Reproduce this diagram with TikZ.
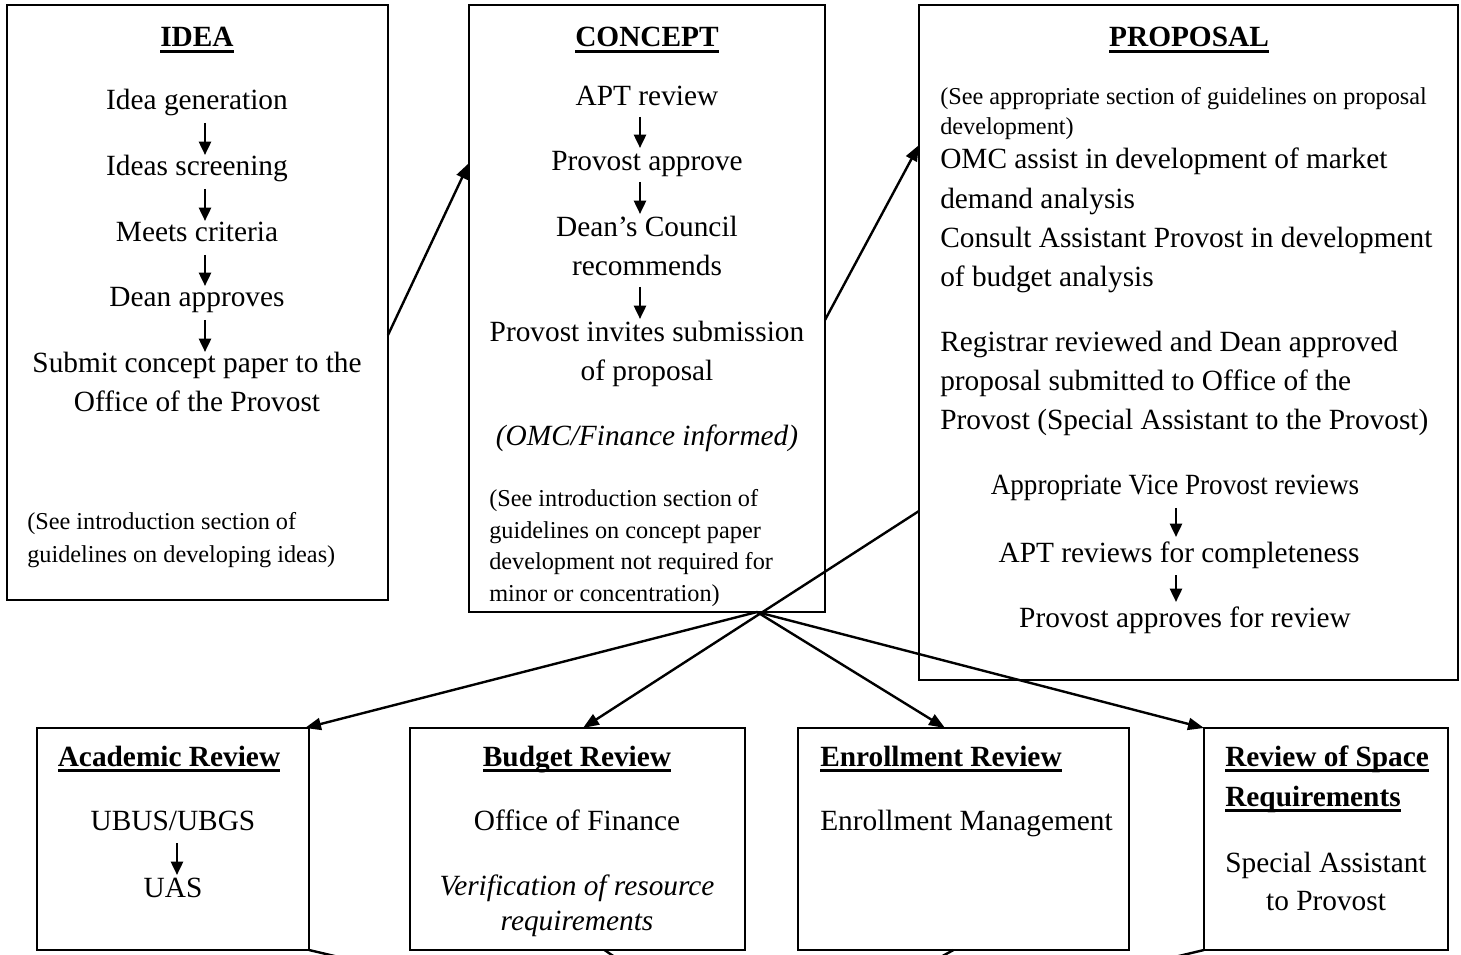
\documentclass[tikz,border=0pt]{standalone}
\usepackage{fontspec}
\usepackage{graphicx}
\setmainfont{Liberation Serif}
\usetikzlibrary{arrows.meta,calc,fit}
\newcommand\bodyfont{\fontsize{22}{30}\selectfont}
\newcommand\smallfont{\fontsize{18.2}{24}\selectfont}
\newcommand\ulbox[1]{\leavevmode\setbox0=\hbox{#1}\rlap{\rule[-4.2pt]{\wd0}{2pt}}\box0}
\begin{document}
\begin{tikzpicture}[x=0.75pt,y=-0.75pt,
  box/.style={draw, line width=1.1pt, inner sep=0pt, outer sep=0pt},
  body/.style={font=\bodyfont, inner sep=0pt, anchor=base},
  bodyl/.style={body, anchor=base west},
  small/.style={font=\smallfont, inner sep=0pt, anchor=base west},
  ttl/.style={font=\bodyfont\bfseries, inner sep=0pt, anchor=base},
  flow/.style={line width=1.8pt, -{Triangle[length=12pt,width=9pt]}},
  sarr/.style={line width=1.9pt, -{Triangle[length=10pt,width=9pt]}},
  stub/.style={line width=1.8pt}]
\useasboundingbox (0,0) rectangle (1461,955);
\clip (0,0) rectangle (1461,955);

% boxes
\node[box, fit={(7,5) (388,600)}] (idea) {};
\node[box, fit={(469,5) (825,612)}] (concept) {};
\node[box, fit={(919,5) (1458,680)}] (prop) {};
\node[box, fit={(37,728) (309,950)}] (acad) {};
\node[box, fit={(410,728) (745,950)}] (budget) {};
\node[box, fit={(798,728) (1129,950)}] (enroll) {};
\node[box, fit={(1204,728) (1448,950)}] (space) {};

% IDEA
\node[ttl] (ideaT) at (197,47) {\ulbox{IDEA}};
\node[body] (i1) at (197,110) {Idea generation};
\node[body] (i2) at (197,176) {Ideas screening};
\node[body] (i3) at (197,242) {Meets criteria};
\node[body] (i4) at (197,307) {Dean approves};
\node[body] (i5) at (197,373) {Submit concept paper to the};
\node[body] (i5b) at (197,412) {Office of the Provost};
\node[small] (in1) at (27,530) {(See introduction section of};
\node[small] (in2) at (27,562) {guidelines on developing ideas)};
\draw[sarr] ($(i1.base)+(8,13)$) -- ($(i2.base)+(8,-21)$);
\draw[sarr] ($(i2.base)+(8,13)$) -- ($(i3.base)+(8,-21)$);
\draw[sarr] ($(i3.base)+(8,13)$) -- ($(i4.base)+(8,-21)$);
\draw[sarr] ($(i4.base)+(8,13)$) -- ($(i5.base)+(8,-21)$);

% CONCEPT
\node[ttl] (conT) at (647,47) {\ulbox{CONCEPT}};
\node[body] (c1) at (647,106) {APT review};
\node[body] (c2) at (647,171) {Provost approve};
\node[body] (c3) at (647,237) {Dean’s Council};
\node[body] (c3b) at (647,276) {recommends};
\node[body] (c4) at (647,342) {Provost invites submission};
\node[body] (c4b) at (647,381) {of proposal};
\node[body, font=\bodyfont\itshape] (c5) at (647,446) {(OMC/Finance informed)};
\node[small] (cn1) at (489,507) {(See introduction section of};
\node[small] (cn2) at (489,538) {guidelines on concept paper};
\node[small] (cn3) at (489,570) {development not required for};
\node[small] (cn4) at (489,601) {minor or concentration)};
\draw[sarr] ($(c1.base)+(-7,11)$) -- ($(c2.base)+(-7,-23)$);
\draw[sarr] ($(c2.base)+(-7,11)$) -- ($(c3.base)+(-7,-23)$);
\draw[sarr] ($(c3b.base)+(-7,11)$) -- ($(c4.base)+(-7,-23)$);

% PROPOSAL
\node[ttl] (propT) at (1189,47) {\ulbox{PROPOSAL}};
\node[small] (pn1) at (940,105) {(See appropriate section of guidelines on proposal};
\node[small] (pn2) at (940,135) {development)};
\node[bodyl] (p1) at (940,169) {OMC assist in development of market};
\node[bodyl] (p1b) at (940,209) {demand analysis};
\node[bodyl] (p2) at (940,248) {Consult Assistant Provost in development};
\node[bodyl] (p2b) at (940,287) {of budget analysis};
\node[bodyl] (p3) at (940,352) {Registrar reviewed and Dean approved};
\node[bodyl] (p3b) at (940,391) {proposal submitted to Office of the};
\node[bodyl] (p3c) at (940,430) {Provost (Special Assistant to the Provost)};
\node[body] (p4) at (1175,495) {\scalebox{0.925}[1]{Appropriate Vice Provost reviews}};
\node[body] (p5) at (1179,562) {APT reviews for completeness};
\node[body] (p6) at (1185,627) {Provost approves for review};
\draw[sarr] ($(p4.base)+(1,13)$) -- ($(p5.base)+(-3,-25)$);
\draw[sarr] ($(p5.base)+(-3,13)$) -- ($(p6.base)+(-9,-25)$);

% bottom row
\node[ttl] (acT) at (169,766) {\ulbox{Academic Review}};
\node[body] (a1) at (173,830) {UBUS/UBGS};
\node[body] (a2) at (173,897) {UAS};
\draw[sarr] ($(a1.base)+(4,13)$) -- ($(a2.base)+(4,-22)$);

\node[ttl] (buT) at (577,766) {\ulbox{Budget Review}};
\node[body] (b1) at (577,830) {Office of Finance};
\node[body, font=\bodyfont\itshape] (b2) at (577,895) {Verification of resource};
\node[body, font=\bodyfont\itshape] (b3) at (577,930) {requirements};

\node[ttl, anchor=base west] (enT) at (820,766) {\ulbox{Enrollment Review}};
\node[bodyl] (e1) at (820,830) {Enrollment Management};

\node[ttl, anchor=base west] (spT1) at (1225,766) {\ulbox{Review of Space}};
\node[ttl, anchor=base west] (spT2) at (1225,806) {\ulbox{Requirements}};
\node[body] (s1) at (1326,872) {Special Assistant};
\node[body] (s2) at (1326,910) {to Provost};

% connectors
\coordinate (hub) at (757,612);
\coordinate (low) at (759,1056);
\draw[flow] ($(idea.north east)+(0,330)$) -- ($(concept.north west)+(0,158)$);
\draw[flow] ($(concept.north east)+(0,315)$) -- ($(prop.north west)+(0,140)$);
\draw[flow] (hub) -- ($(acad.north east)+(-4,0)$);
\draw[flow] ($(prop.north west)+(0,506)$) -- ($(budget.north)+(5.5,0)$);
\draw[flow] (hub) -- ($(enroll.north west)+(147,0)$);
\draw[flow] (hub) -- (space.north west);
\draw[stub] (acad.south east) -- (low);
\draw[stub] ($(budget.south)+(27,0)$) -- (low);
\draw[stub] ($(enroll.south)+(-10,0)$) -- (low);
\draw[stub] (space.south west) -- (low);
\end{tikzpicture}
\end{document}
